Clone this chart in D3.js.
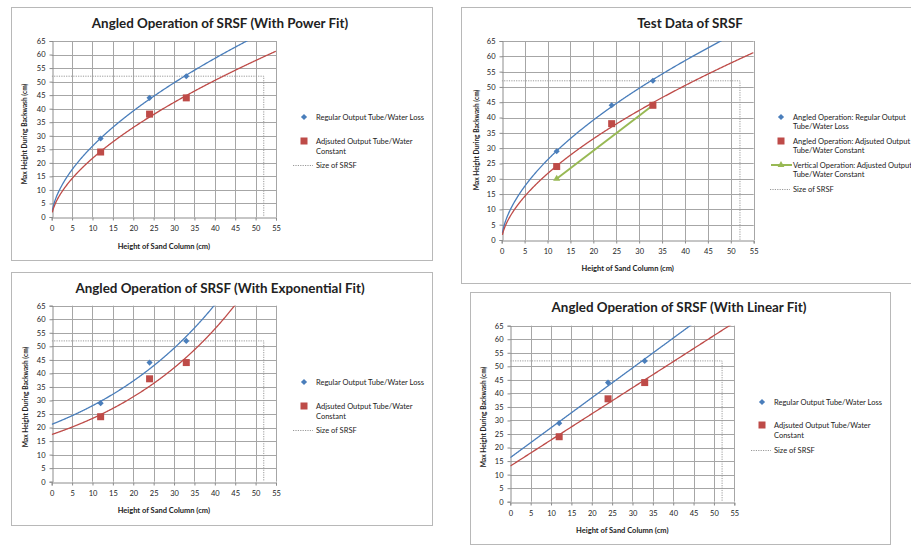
<!DOCTYPE html>
<html><head><meta charset="utf-8">
<script src="https://cdn.jsdelivr.net/npm/d3@7"></script>
<style>
html,body{margin:0;padding:0;background:#fff;}
svg{display:block;}
text{font-family:Lato,"Open Sans",sans-serif;fill:#222;}
</style></head>
<body>
<svg id="c" width="911" height="546"></svg>
<script>
// ---- data ----
const sandHeight = [12, 24, 33];
const regularLoss = [29, 44, 52];
const adjustedConst = [24, 38, 44];
const verticalHeight = [12, 33];
const verticalConst = [20, 44];
const srsfSize = [52];
const xTickLabels = [0,5,10,15,20,25,30,35,40,45,50,55];
const yTickLabels = [0,5,10,15,20,25,30,35,40,45,50,55,60,65];
const titles = ["Angled Operation of SRSF (With Power Fit)", "Test Data of SRSF",
  "Angled Operation of SRSF (With Exponential Fit)", "Angled Operation of SRSF (With Linear Fit)"];
const legendShort = ["Regular Output Tube/Water Loss", ["Adjsuted Output Tube/Water", "Constant"], "Size of SRSF"];
const legendLong = [["Angled Operation: Regular  Output", "Tube/Water Loss"],
  ["Angled Operation: Adjsuted  Output", "Tube/Water Constant"],
  ["Vertical Operation: Adjusted Output", "Tube/Water Constant"], "Size of SRSF"];

const BLUE = "#4A7EBB", RED = "#BE4B48", GREEN = "#98B954", GRID = "#A6A6A6";

// ---- least-squares fits (as a spreadsheet trendline does) ----
function linFit(xs, ys){
  const n = xs.length, mx = d3.mean(xs), my = d3.mean(ys);
  let sxy = 0, sxx = 0;
  for (let i=0;i<n;i++){ sxy += (xs[i]-mx)*(ys[i]-my); sxx += (xs[i]-mx)**2; }
  const b = sxy/sxx; return {b, a: my - b*mx};
}
function fitFn(kind, xs, ys){
  if (kind === "linear"){ const f = linFit(xs, ys); return x => f.a + f.b*x; }
  if (kind === "exp"){ const f = linFit(xs, ys.map(Math.log)); return x => Math.exp(f.a)*Math.exp(f.b*x); }
  const f = linFit(xs.map(Math.log), ys.map(Math.log)); return x => Math.exp(f.a)*Math.pow(x, f.b);
}

const svg = d3.select("#c");
const diamond = d3.symbol(d3.symbolDiamond2, 24)();

const panels = [
  {frame:[11,7,432,260], plot:[51.7,41,276,217], title:[220,28], ytitleY:134, ytitleX:25, xtitleY:249, fit:"power", legend:"short", lx:304, ly:[117,141,165]},
  {frame:[461,7,915,283], plot:[501.7,41,753.7,240], title:[690,28], ytitleY:140, ytitleX:477, xtitleY:271, fit:"power", legend:"long", lx:781, ly:[117,141,165,189]},
  {frame:[11,272,432,525], plot:[51.7,305.7,276,481.7], title:[220,293], ytitleY:397, ytitleX:26, xtitleY:513, fit:"exp", legend:"short", lx:304, ly:[382,406,430]},
  {frame:[470,292,890,544], plot:[510.3,325.7,734.3,501.7], title:[679,312], ytitleY:417, ytitleX:484, xtitleY:533, fit:"linear", legend:"short", lx:762, ly:[402,425,450]}
];

panels.forEach((p, pi) => {
  const g = svg.append("g");
  g.append("rect").attr("x", p.frame[0]+0.5).attr("y", p.frame[1]+0.5)
    .attr("width", p.frame[2]-p.frame[0]).attr("height", p.frame[3]-p.frame[1])
    .attr("fill", "#fff").attr("stroke", "#B8B8B8").attr("stroke-width", 1);

  const [L, T, R, B] = p.plot;
  const x = d3.scaleLinear().domain([0, 55]).range([L, R]);
  const y = d3.scaleLinear().domain([0, 65]).range([B, T]);

  // grid
  g.append("g").selectAll("line.v").data(xTickLabels.slice(1)).join("line")
    .attr("x1", d => Math.round(x(d))+0.5).attr("x2", d => Math.round(x(d))+0.5)
    .attr("y1", T).attr("y2", B).attr("stroke", GRID).attr("stroke-width", 1);
  g.append("g").selectAll("line.h").data(yTickLabels.slice(1)).join("line")
    .attr("y1", d => Math.round(y(d))+0.5).attr("y2", d => Math.round(y(d))+0.5)
    .attr("x1", L).attr("x2", R).attr("stroke", GRID).attr("stroke-width", 1);

  // axes
  const xa = g.append("g").attr("transform", `translate(0,${Math.round(B)+0.5})`)
    .call(d3.axisBottom(x).tickValues(xTickLabels).tickSize(3).tickPadding(5).tickFormat(d3.format("d")));
  const ya = g.append("g").attr("transform", `translate(${Math.round(L)+0.5},0)`)
    .call(d3.axisLeft(y).tickValues(yTickLabels).tickSize(3).tickPadding(4).tickFormat(d3.format("d")));
  [xa, ya].forEach(a => {
    a.select(".domain").attr("stroke", "#8C8C8C");
    a.selectAll(".tick line").attr("stroke", "#8C8C8C");
    a.selectAll(".tick text").attr("font-family", "Lato, sans-serif").attr("font-size", 7.5).attr("fill", "#333");
  });

  // clip
  const cid = "clip" + pi;
  g.append("clipPath").attr("id", cid).append("rect").attr("x", L).attr("y", T).attr("width", R-L).attr("height", B-T);
  const pg = g.append("g").attr("clip-path", `url(#${cid})`);

  // SRSF size dotted
  pg.append("path")
    .attr("d", d3.line()([[x(0), y(srsfSize[0])], [x(srsfSize[0]), y(srsfSize[0])], [x(srsfSize[0]), y(0)]]))
    .attr("fill", "none").attr("stroke", "#999").attr("stroke-width", 1).attr("stroke-dasharray", "1.2,1.2");

  // trendlines
  const start = p.fit === "power" ? 0.15 : 0;
  const xsamp = d3.range(start, 55.01, 0.1);
  [[regularLoss, BLUE], [adjustedConst, RED]].forEach(([ys, col]) => {
    const f = fitFn(p.fit, sandHeight, ys);
    pg.append("path").datum(xsamp.map(v => [v, Math.min(f(v), 80)]))
      .attr("d", d3.line().x(d => x(d[0])).y(d => y(d[1])))
      .attr("fill", "none").attr("stroke", col).attr("stroke-width", 1.3);
  });

  // vertical operation series (test data only)
  if (pi === 1){
    const vd = verticalHeight.map((v,i) => [v, verticalConst[i]]);
    pg.append("path").datum(vd).attr("d", d3.line().x(d => x(d[0])).y(d => y(d[1])))
      .attr("fill", "none").attr("stroke", GREEN).attr("stroke-width", 2);
    pg.selectAll("path.tri").data(vd).join("path")
      .attr("d", d3.symbol(d3.symbolTriangle, 22)())
      .attr("transform", d => `translate(${x(d[0])},${y(d[1])})`).attr("fill", GREEN);
  }

  // markers
  const pts = (ys) => sandHeight.map((v,i) => [v, ys[i]]);
  g.selectAll("path.dia").data(pts(regularLoss)).join("path")
    .attr("d", diamond)
    .attr("transform", d => `translate(${x(d[0])},${y(d[1])})`).attr("fill", BLUE);
  g.selectAll("rect.sq").data(pts(adjustedConst)).join("rect")
    .attr("x", d => x(d[0]) - 3.5).attr("y", d => y(d[1]) - 3.5).attr("width", 7).attr("height", 7).attr("fill", RED);

  // titles
  g.append("text").attr("x", p.title[0]).attr("y", p.title[1]).attr("text-anchor", "middle")
    .attr("font-size", 13.4).attr("font-weight", "bold").attr("fill", "#111").text(titles[pi]);
  g.append("text").attr("x", (L+R)/2).attr("y", p.xtitleY).attr("text-anchor", "middle")
    .attr("font-size", 7.5).attr("font-weight", "bold").text("Height of Sand Column (cm)");
  g.append("text").attr("transform", `translate(${p.ytitleX},${p.ytitleY}) rotate(-90)`)
    .attr("text-anchor", "middle").attr("dy", "0.35em")
    .attr("font-size", 6.6).attr("font-weight", "bold").text("Max Height During Backwash  (cm)");

  // legend
  const lg = g.append("g");
  const tx = p.lx + 12;
  const addText = (lines, yy) => {
    (Array.isArray(lines) ? lines : [lines]).forEach((s, k) => {
      lg.append("text").attr("x", tx).attr("y", yy + k*(pi===1?9:10)).attr("dy", "0.35em")
        .attr("font-size", 7.5).attr("fill", "#333").text(s);
    });
  };
  const labels = p.legend === "short" ? legendShort : legendLong;
  lg.append("path").attr("d", diamond).attr("transform", `translate(${p.lx},${p.ly[0]})`).attr("fill", BLUE);
  addText(labels[0], p.ly[0]);
  lg.append("rect").attr("x", p.lx-3.5).attr("y", p.ly[1]-3.5).attr("width", 7).attr("height", 7).attr("fill", RED);
  addText(labels[1], p.ly[1]);
  let k = 2;
  if (p.legend === "long"){
    lg.append("line").attr("x1", p.lx-10).attr("x2", p.lx+11).attr("y1", p.ly[2]).attr("y2", p.ly[2]).attr("stroke", GREEN).attr("stroke-width", 2);
    lg.append("path").attr("d", d3.symbol(d3.symbolTriangle, 20)()).attr("transform", `translate(${p.lx},${p.ly[2]})`).attr("fill", GREEN);
    addText(labels[2], p.ly[2]);
    k = 3;
  }
  lg.append("line").attr("x1", p.lx-11).attr("x2", p.lx+9).attr("y1", p.ly[k]+0.5).attr("y2", p.ly[k]+0.5)
    .attr("stroke", "#999").attr("stroke-dasharray", "1.2,1.2");
  addText(labels[k], p.ly[k]);
});
</script>
</body></html>
